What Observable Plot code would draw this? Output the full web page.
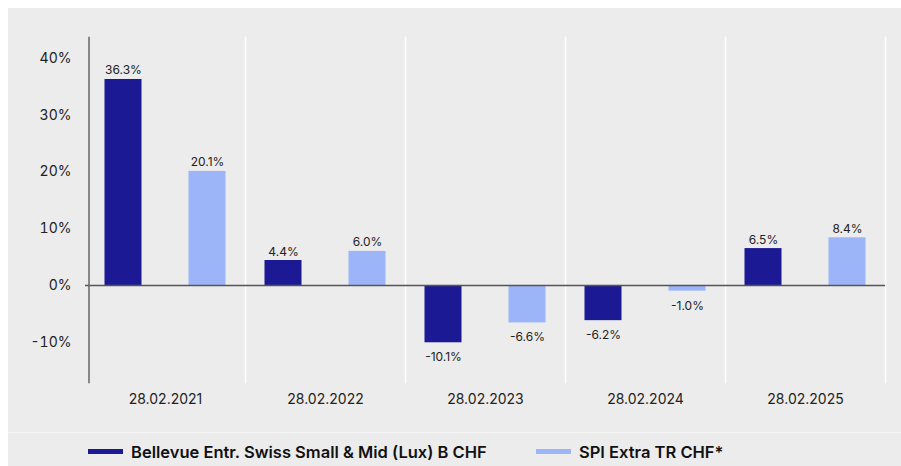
<!DOCTYPE html>
<html>
<head>
<meta charset="utf-8">
<script src="https://cdn.jsdelivr.net/npm/d3@7"></script>
<script src="https://cdn.jsdelivr.net/npm/@observablehq/plot@0.6"></script>
<style>
  html, body { margin: 0; padding: 0; background: #ffffff; }
  #wrap { position: absolute; left: 8px; top: 8px; width: 893px; height: 458px; background: #ececec; overflow: hidden; font-family: Inter, sans-serif; }
  #chart svg { display: block; }
  #legend { position: absolute; left: 0; top: 424px; width: 893px; height: 34px; border-top: 1px solid #f4f4f4; box-sizing: border-box; }
  .item { position: absolute; top: 2px; height: 33px; display: flex; align-items: center; font-size: 16.5px; font-weight: 600; color: #111; white-space: nowrap; }
  .sw { width: 35px; height: 5px; margin-right: 8px; }
</style>
</head>
<body>
<div id="wrap">
  <div id="chart"></div>
  <div id="legend"></div>
</div>
<script>
const dates = ["28.02.2021", "28.02.2022", "28.02.2023", "28.02.2024", "28.02.2025"];
const fundName = "Bellevue Entr. Swiss Small & Mid (Lux) B CHF";
const indexName = "SPI Extra TR CHF*";
const fundValues = [36.3, 4.4, -10.1, -6.2, 6.5];
const indexValues = [20.1, 6.0, -6.6, -1.0, 8.4];
const yTicks = [-10, 0, 10, 20, 30, 40];
const seriesNames = [fundName, indexName];
const seriesColors = ["#1b1994", "#9cb4f8"];

const rows = dates.flatMap((d, i) => [
  {date: d, series: fundName, value: fundValues[i]},
  {date: d, series: indexName, value: indexValues[i]}
]);
const fmt = v => v.toFixed(1) + "%";

const chart = Plot.plot({
  width: 893,
  height: 424,
  marginLeft: 76.5,
  marginRight: 16.5,
  marginTop: 29,
  marginBottom: 50,
  style: {background: "transparent", fontFamily: "Inter, sans-serif", fontSize: "14px", color: "#222"},
  fx: {domain: dates, padding: 0, label: null, axis: "bottom", tickSize: 0, tickPadding: 12},
  x: {domain: seriesNames, paddingInner: 0.56, paddingOuter: 0.232, axis: null},
  y: {domain: [-17.1, 43.7], ticks: yTicks, tickSize: 0, tickPadding: 14, tickFormat: d => d + "%", label: null},
  color: {domain: seriesNames, range: seriesColors},
  marks: [
    Plot.frame({anchor: "right", stroke: "#ffffff", strokeWidth: 1.5, strokeOpacity: 1}),
    Plot.barY(rows, {fx: "date", x: "series", y: "value", fill: "series"}),
    Plot.ruleY([0], {stroke: "#555555", strokeWidth: 1.5}),
    Plot.text(rows, {filter: d => d.value >= 0, fx: "date", x: "series", y: "value", text: d => fmt(d.value), lineAnchor: "bottom", dy: -5, fontSize: 12, fill: "#222"}),
    Plot.text(rows, {filter: d => d.value < 0, fx: "date", x: "series", y: "value", text: d => fmt(d.value), lineAnchor: "top", dy: 10, fontSize: 12, fill: "#222"}),
    Plot.frame({anchor: "left", stroke: "#666666", strokeWidth: 1.5, insetLeft: 3.5, fx: () => dates[0]})
  ]
});
document.getElementById("chart").appendChild(chart);

const legend = document.getElementById("legend");
const legendLeft = [80, 528];
seriesNames.forEach((name, i) => {
  const item = document.createElement("div");
  item.className = "item";
  item.style.left = legendLeft[i] + "px";
  const sw = document.createElement("span");
  sw.className = "sw";
  sw.style.background = seriesColors[i];
  const label = document.createElement("span");
  label.textContent = name;
  item.appendChild(sw);
  item.appendChild(label);
  legend.appendChild(item);
});
</script>
</body>
</html>
